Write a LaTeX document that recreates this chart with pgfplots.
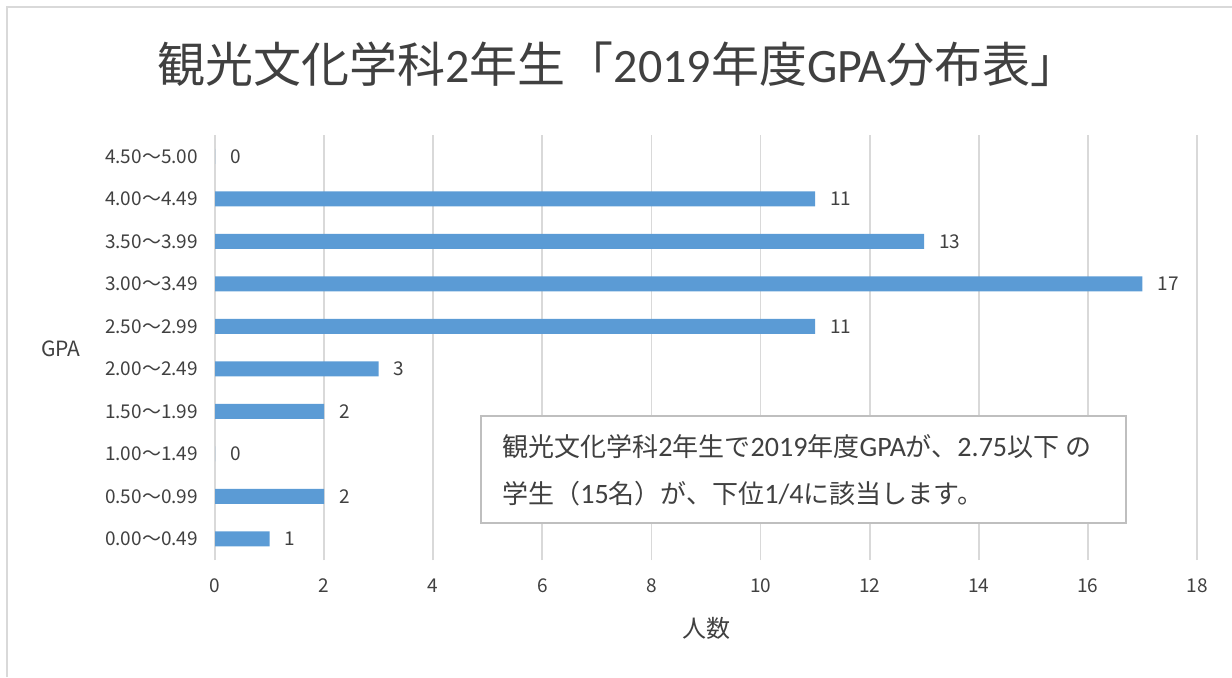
\documentclass[border=0pt]{standalone}
\usepackage{fontspec}
\setmainfont{Noto Sans CJK JP}
\newfontfamily\lat{Carlito}
\newfontfamily\latb[Scale=1.08]{Carlito}
\usepackage{pgfplots}
\pgfplotsset{compat=1.18}
\definecolor{barblue}{HTML}{5B9BD5}
\definecolor{gridgray}{HTML}{D9D9D9}
\definecolor{txt}{HTML}{404040}
\definecolor{boxgray}{HTML}{BFBFBF}
\begin{document}
\begin{tikzpicture}
\path[use as bounding box] (0,0) rectangle (616pt,338.5pt);
\draw[gridgray, line width=1pt] (3.5pt,0) -- (3.5pt,335pt) -- (616pt,335pt);
\node[anchor=base, text=txt, font=\fontsize{24}{28}\selectfont, inner sep=0] at (309pt,297.5pt)
  {観光文化学科{\lat 2}年生「{\lat 2019}年度{\lat GPA}分布表」};
\begin{axis}[
  at={(107.5pt,58.5pt)}, anchor=south west,
  width=491pt, height=212.5pt, scale only axis,
  xbar, bar width=7.5pt,
  xmin=0, xmax=18, ymin=-0.5, ymax=9.5,
  xtick={0,2,...,18},
  ytick={0,...,9},
  yticklabels={0.00～0.49,0.50～0.99,1.00～1.49,1.50～1.99,2.00～2.49,2.50～2.99,3.00～3.49,3.50～3.99,4.00～4.49,4.50～5.00},
  /pgf/number format/assume math mode=true,
  axis line style={draw=none},
  major tick length=0pt,
  xmajorgrids,
  major grid style={gridgray, line width=0.9pt},
  yticklabel style={font=\fontsize{9.5}{11}\selectfont, text=txt, xshift=-5pt},
  xticklabel style={font=\fontsize{9.5}{11}\selectfont, text=txt, yshift=-6pt},
  every axis y label/.style={at={(axis description cs:-0.1568,0.4965)}, anchor=center, font=\fontsize{10.5}{12}\selectfont, text=txt},
  every axis x label/.style={at={(axis description cs:0.5,-0.1835)}, anchor=base, font=\fontsize{12}{14}\selectfont, text=txt},
  xlabel={人数},
  ylabel={GPA},
  nodes near coords,
  nodes near coords style={font=\fontsize{9.5}{11}\selectfont, text=txt, anchor=west, xshift=4pt},
  clip=false,
]
\addplot[fill=barblue, draw=none] coordinates {
  (1,0) (2,1) (0,2) (2,3) (3,4) (11,5) (17,6) (13,7) (11,8) (0,9)
};
\end{axis}
\draw[boxgray, line width=1pt, fill=white] (240.5pt,76.85pt) rectangle (563pt,130.65pt);
\node[anchor=base west, text=txt, font=\fontsize{13}{15}\selectfont, inner sep=0] at (251pt,110.5pt)
  {観光文化学科{\latb 2}年生で{\latb 2019}年度{\latb GPA}が、{\latb 2.75}以下\hspace{3pt}の};
\node[anchor=base west, text=txt, font=\fontsize{13}{15}\selectfont, inner sep=0] at (251pt,87pt)
  {学生（{\latb 15}名）が、下位{\latb 1/4}に該当します。};
\end{tikzpicture}
\end{document}
